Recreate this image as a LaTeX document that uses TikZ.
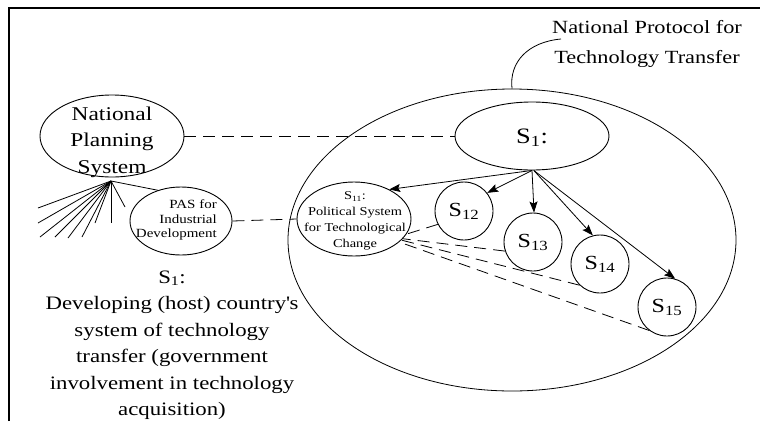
\documentclass[tikz,border=0pt]{standalone}
\usepackage{fontspec}
\setmainfont{Liberation Serif}[FakeStretch=1.2]
\usetikzlibrary{shapes.geometric,arrows.meta}

\tikzset{
  thin line/.style={line width=0.8pt},
  oval/.style={draw, ellipse, inner sep=0pt, line width=0.9pt},
  subsys/.style={draw, circle, inner sep=0pt, minimum size=58pt, line width=0.9pt,
                 font=\fontsize{20}{22}\selectfont},
  link/.style={line width=0.8pt, dash pattern=on 12pt off 7pt},
  feed/.style={line width=0.8pt, -{Stealth[length=11pt,width=8pt,inset=2pt]}},
  txt/.style={inner sep=0pt, align=center},
}

\begin{document}
\begin{tikzpicture}[x=1pt, y=-1pt]
\useasboundingbox (0,0) rectangle (760,421);

% frame
\draw[line width=1.1pt] (9,421) -- (9,8) -- (760,8);

% protocol boundary and its caption
\node[oval, thin line, minimum width=448pt, minimum height=302pt] (protocol) at (512,240) {};
\node[txt, font=\fontsize{18.6}{29.5}\selectfont] (protocoltxt) at (647,44)
  {National Protocol for\\Technology Transfer};
\coordinate (capt) at (561,39);
\draw[thin line] (protocol.90) .. controls (509,62) and (528,42) .. (capt);

% national planning system
\node[oval, minimum width=144pt, minimum height=82pt] (nps) at (112,136) {};
\node[txt, font=\fontsize{19.5}{26.5}\selectfont] (npstxt) at (112,142)
  {National\\Planning\\System};

% S1 within the protocol
\node[oval, minimum width=154pt, minimum height=68pt] (s1) at (532,136) {};
\node[txt, font=\fontsize{22}{24}\selectfont] (s1txt) at (532,138) {S\textsubscript{1}:};

% PAS for industrial development
\node[oval, minimum width=102pt, minimum height=68pt] (pas) at (181,221) {};
\node[inner sep=0pt, align=right, anchor=east, font=\fontsize{12.5}{14.5}\selectfont]
  (pastxt) at (217,220) {PAS for\\Industrial\\Development};

% S11 political system
\node[oval, minimum width=114pt, minimum height=74pt] (s11) at (354,219) {};
\node[txt, font=\fontsize{12}{16}\selectfont] (s11txt) at (355,221)
  {S\textsubscript{11}:\\Political System\\for Technological\\Change};

% S12 .. S15
\node[subsys] (s12) at (464,211) {S\textsubscript{12}};
\node[subsys] (s13) at (533,242) {S\textsubscript{13}};
\node[subsys] (s14) at (600,264) {S\textsubscript{14}};
\node[subsys] (s15) at (667,307) {S\textsubscript{15}};

% description of S1
\node[txt, font=\fontsize{19}{26.5}\selectfont] (desc) at (172,345)
  {S\textsubscript{1}:\\Developing (host) country\textquotesingle s\\system of technology\\transfer (government\\involvement in technology\\acquisition)};

% dashed links
\draw[link] (nps.east) -- (s1.west);
\draw[link] (pas.east) -- (s11.west);
\draw[link] (s12.207) -- (s11.-16);
\draw[link] (s13.198) -- (s11.-22);
\draw[link] (s14.226) -- (s11.-24);
\draw[link] (s15.233) -- (s11.-27);

% arrows from S1 to its subsystems
\draw[feed] (s1.south) -- (s11.40);
\draw[feed] (s1.south) -- (s12.38);
\draw[feed] (s1.south) -- (s13.88);
\draw[feed] (s1.-87) -- (s14.104);
\draw[feed] (s1.-87) -- (s15.74);

% fan of lines below the planning system
\coordinate (apex) at (111,181);
\coordinate (f1) at (38,208);
\coordinate (f2) at (38,223);
\coordinate (f3) at (40,237);
\coordinate (f4) at (55,237);
\coordinate (f5) at (68,238);
\coordinate (f6) at (82,237);
\coordinate (f7) at (95,223);
\coordinate (f8) at (111,223);
\coordinate (f9) at (125,207);
\foreach \f in {f1,f2,f3,f4,f5,f6,f7,f8,f9}
  \draw[thin line] (apex) -- (\f);
\draw[thin line] (apex) -- (pas.127);
\end{tikzpicture}
\end{document}
